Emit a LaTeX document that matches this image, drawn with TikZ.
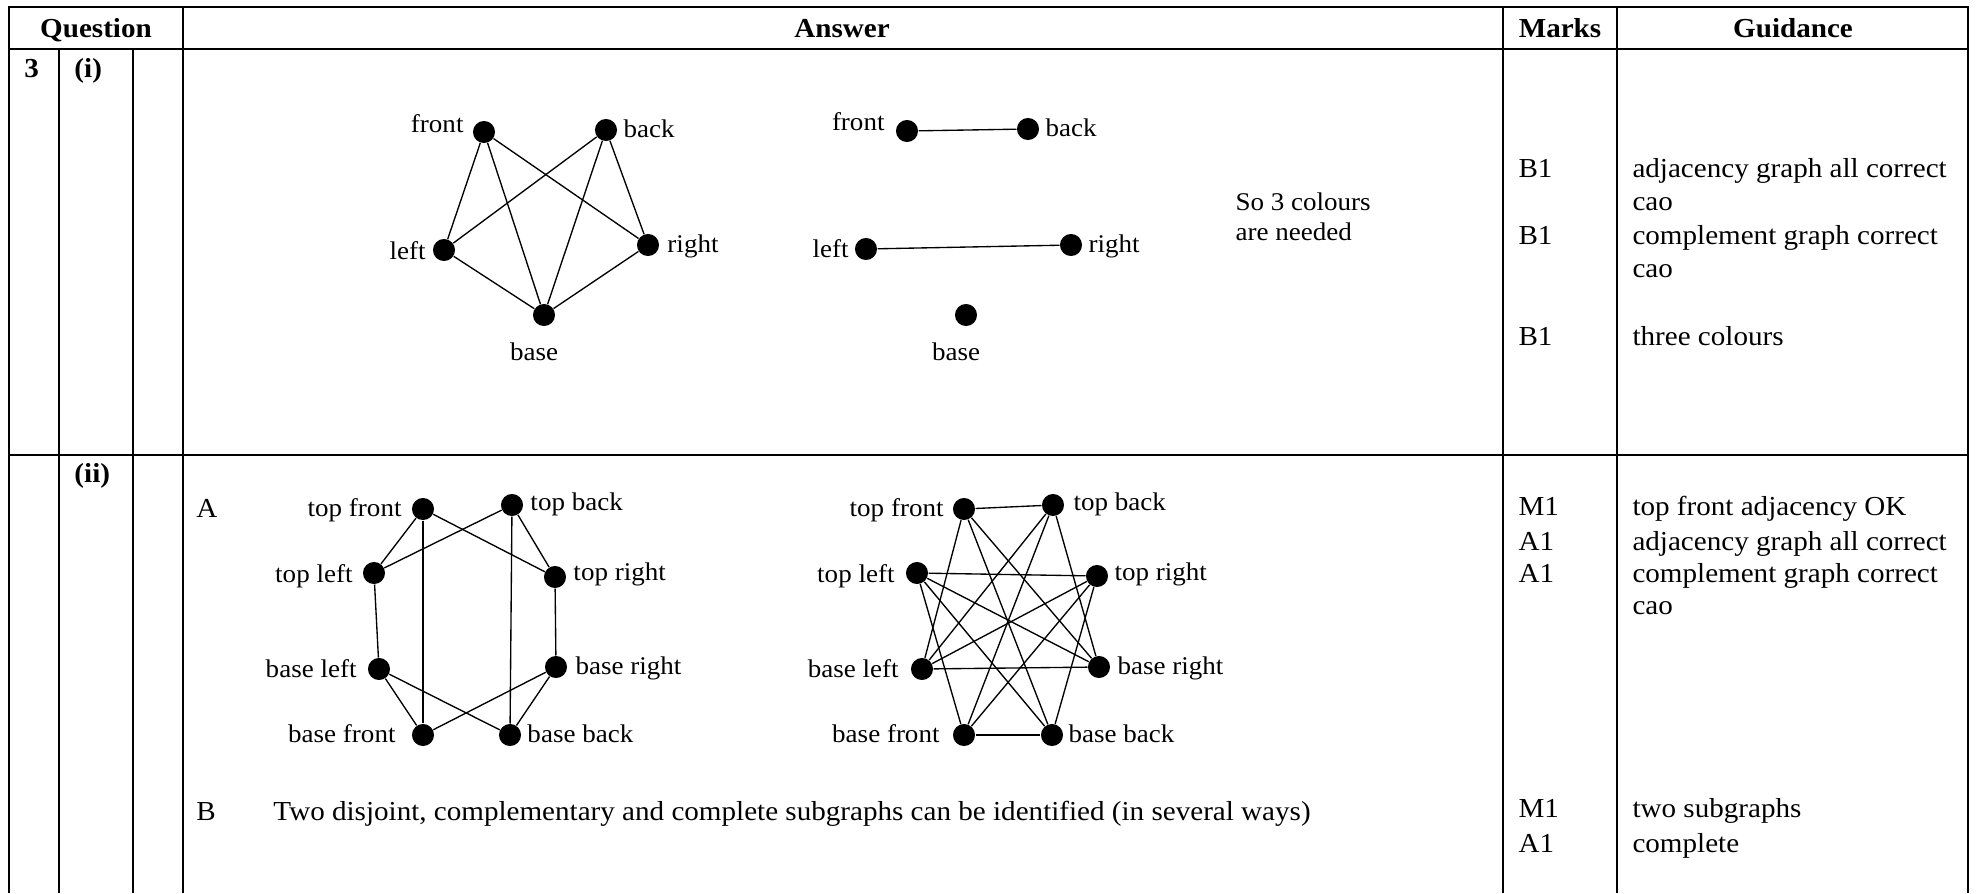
\documentclass[tikz,border=0pt]{standalone}
\usepackage{fontspec}
\setmainfont[FakeStretch=1.06]{Liberation Serif}
\usepackage{tikz}

\begin{document}
\begin{tikzpicture}[x=0.408pt, y=-0.408pt,
	font=\fontsize{11.2}{13.5}\selectfont,
	rule/.style={line width=0.85pt},
	edge/.style={line width=0.55pt},
	dot/.style={circle, fill=black, inner sep=0pt, minimum size=9pt},
	txt/.style={inner sep=0pt, anchor=base west},
	qnum/.style={txt, font=\fontsize{11.2}{13.5}\selectfont\bfseries},
	hdr/.style={inner sep=0pt, anchor=base, font=\fontsize{11.2}{13.5}\selectfont\bfseries},
	lbl/.style={inner sep=0pt, font=\fontsize{10.4}{12}\selectfont}]
	\useasboundingbox (0,0) rectangle (1977,893);

	% table rules
	\draw [rule] (9,893) -- (9,7) -- (1968,7) -- (1968,893);
	\draw [rule] (9,49) -- (1968,49);
	\draw [rule] (9,455) -- (1968,455);
	\foreach \x in {59,133} \draw [rule] (\x,49) -- (\x,893);
	\foreach \x in {183,1503,1617} \draw [rule] (\x,7) -- (\x,893);

	\node [hdr] (hq) at (96,37) {Question};
	\node [hdr] (ha) at (842,37) {Answer};
	\node [hdr] (hm) at (1560,37) {Marks};
	\node [hdr] (hg) at (1793,37) {Guidance};

	\node [qnum] (q3) at (24,77) {3};
	\node [qnum] (qi) at (74,77) {(i)};
	\node [qnum] (qii) at (74,482) {(ii)};

	% part (i): adjacency graph
	\node [dot] (fr1) at (484,132) {};
	\node [dot] (bk1) at (606,130) {};
	\node [dot] (lf1) at (444,250) {};
	\node [dot] (rt1) at (648,245) {};
	\node [dot] (bs1) at (544,315) {};
	\node [lbl, anchor=base east] (fr1l) at (464,132) {front};
	\node [lbl, anchor=base west] (bk1l) at (623,137) {back};
	\node [lbl, anchor=base east] (lf1l) at (426,259) {left};
	\node [lbl, anchor=base west] (rt1l) at (667,252) {right};
	\node [lbl, anchor=base] (bs1l) at (534,360) {base};
	\foreach \a/\b in {fr1/lf1, fr1/bs1, fr1/rt1, bk1/lf1, bk1/bs1, bk1/rt1, lf1/bs1, rt1/bs1}
		\draw [edge] (\a) -- (\b);

	% part (i): complement
	\node [dot] (fr2) at (907,131) {};
	\node [dot] (bk2) at (1028,129) {};
	\node [dot] (lf2) at (866,249) {};
	\node [dot] (rt2) at (1071,245) {};
	\node [dot] (bs2) at (966,315) {};
	\node [lbl, anchor=base east] (fr2l) at (885,130) {front};
	\node [lbl, anchor=base west] (bk2l) at (1045,136) {back};
	\node [lbl, anchor=base east] (lf2l) at (849,257) {left};
	\node [lbl, anchor=base west] (rt2l) at (1088,252) {right};
	\node [lbl, anchor=base] (bs2l) at (956,360) {base};
	\draw [edge] (fr2) -- (bk2);
	\draw [edge] (lf2) -- (rt2);

	\node [lbl, anchor=base west] (sol1) at (1235,210) {So 3 colours};
	\node [lbl, anchor=base west] (sol2) at (1235,240) {are needed};

	\node [txt] (m1) at (1518,177) {B1};
	\node [txt] (m2) at (1518,244) {B1};
	\node [txt] (m3) at (1518,345) {B1};
	\node [txt] (g1) at (1632,177) {adjacency graph all correct};
	\node [txt] (g2) at (1632,210) {cao};
	\node [txt] (g3) at (1632,244) {complement graph correct};
	\node [txt] (g4) at (1632,277) {cao};
	\node [txt] (g5) at (1632,345) {three colours};

	% part (ii): adjacency graph
	\node [txt] (pa) at (196,517) {A};
	\node [dot] (tf3) at (423,509) {};
	\node [dot] (tb3) at (512,505) {};
	\node [dot] (tl3) at (374,573) {};
	\node [dot] (tr3) at (555,577) {};
	\node [dot] (bl3) at (379,669) {};
	\node [dot] (br3) at (556,667) {};
	\node [dot] (bf3) at (423,735) {};
	\node [dot] (bb3) at (510,735) {};
	\node [lbl, anchor=base east] (tf3l) at (402,516) {top front};
	\node [lbl, anchor=base west] (tb3l) at (530,510) {top back};
	\node [lbl, anchor=base east] (tl3l) at (353,582) {top left};
	\node [lbl, anchor=base west] (tr3l) at (573,580) {top right};
	\node [lbl, anchor=base east] (bl3l) at (357,677) {base left};
	\node [lbl, anchor=base west] (br3l) at (575,674) {base right};
	\node [lbl, anchor=base east] (bf3l) at (396,742) {base front};
	\node [lbl, anchor=base west] (bb3l) at (527,742) {base back};
	\foreach \a/\b in {tf3/tl3, tf3/bf3, tf3/tr3, tb3/tl3, tb3/bb3, tb3/tr3,
		tl3/bl3, tr3/br3, bl3/bf3, bl3/bb3, br3/bf3, br3/bb3}
		\draw [edge] (\a) -- (\b);

	% part (ii): complement
	\node [dot] (tf4) at (964,509) {};
	\node [dot] (tb4) at (1053,505) {};
	\node [dot] (tl4) at (917,573) {};
	\node [dot] (tr4) at (1097,576) {};
	\node [dot] (bl4) at (922,669) {};
	\node [dot] (br4) at (1099,667) {};
	\node [dot] (bf4) at (964,735) {};
	\node [dot] (bb4) at (1052,735) {};
	\node [lbl, anchor=base east] (tf4l) at (944,516) {top front};
	\node [lbl, anchor=base west] (tb4l) at (1073,510) {top back};
	\node [lbl, anchor=base east] (tl4l) at (895,582) {top left};
	\node [lbl, anchor=base west] (tr4l) at (1114,580) {top right};
	\node [lbl, anchor=base east] (bl4l) at (899,677) {base left};
	\node [lbl, anchor=base west] (br4l) at (1117,674) {base right};
	\node [lbl, anchor=base east] (bf4l) at (940,742) {base front};
	\node [lbl, anchor=base west] (bb4l) at (1068,742) {base back};
	\foreach \a/\b in {tf4/tb4, tf4/bl4, tf4/br4, tf4/bb4, tb4/bl4, tb4/br4, tb4/bf4, tl4/tr4,
		tl4/br4, tl4/bf4, tl4/bb4, tr4/bl4, tr4/bf4, tr4/bb4, bl4/br4, bf4/bb4}
		\draw [edge] (\a) -- (\b);

	\node [txt] (pb) at (196,820) {B};
	\node [txt] (pbt) at (273,820) {Two disjoint, complementary and complete subgraphs can be identified (in several ways)};

	\node [txt] (m4) at (1518,515) {M1};
	\node [txt] (m5) at (1518,550) {A1};
	\node [txt] (m6) at (1518,582) {A1};
	\node [txt] (m7) at (1518,817) {M1};
	\node [txt] (m8) at (1518,852) {A1};
	\node [txt] (g6) at (1632,515) {top front adjacency OK};
	\node [txt] (g7) at (1632,550) {adjacency graph all correct};
	\node [txt] (g8) at (1632,582) {complement graph correct};
	\node [txt] (g9) at (1632,614) {cao};
	\node [txt] (g10) at (1632,817) {two subgraphs};
	\node [txt] (g11) at (1632,852) {complete};
\end{tikzpicture}
\end{document}
